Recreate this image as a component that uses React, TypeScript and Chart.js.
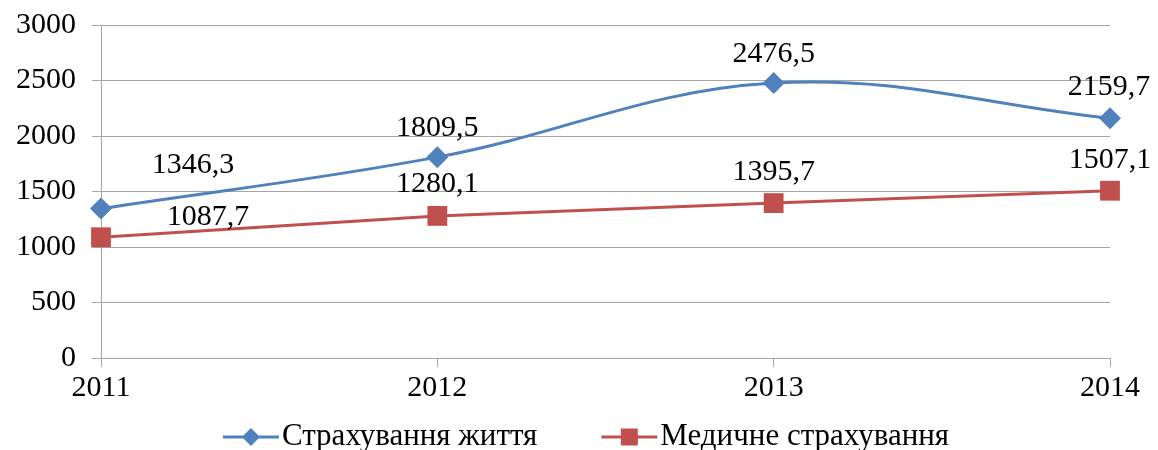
import React, { useEffect, useRef } from "react";
import { Chart, registerables } from "chart.js";

Chart.register(...registerables);

const years = ["2011", "2012", "2013", "2014"];
const lifeInsurance = [1346.3, 1809.5, 2476.5, 2159.7];
const medicalInsurance = [1087.7, 1280.1, 1395.7, 1507.1];
const seriesNames = ["Страхування життя", "Медичне страхування"];
const yMin = 0;
const yMax = 3000;
const yStep = 500;

const FONT = '"Liberation Serif", "Times New Roman", serif';
const GRID = "#a6a6a6";
const BLUE = "#4F81BD";
const RED = "#C0504D";

const fmt = (v: number) => v.toFixed(1).replace(".", ",");

// label placement (style) per dataset, per point
const labelOffsets = [
  [ { dx: 92, dy: -43 }, { dx: 0, dy: -29 }, { dx: 0, dy: -29 }, { dx: -1, dy: -31 } ],
  [ { dx: 107, dy: -20 }, { dx: 0, dy: -32 }, { dx: 0, dy: -31 }, { dx: 0, dy: -31 } ],
];

const dataLabelPlugin = {
  id: "dataLabelsCustom",
  afterDatasetsDraw(chart: any) {
    const ctx = chart.ctx;
    ctx.save();
    ctx.font = `30px ${FONT}`;
    ctx.fillStyle = "#000";
    ctx.textAlign = "center";
    ctx.textBaseline = "middle";
    chart.data.datasets.forEach((ds: any, di: number) => {
      const meta = chart.getDatasetMeta(di);
      meta.data.forEach((el: any, i: number) => {
        const off = labelOffsets[di][i];
        ctx.fillText(fmt(ds.data[i]), el.x + off.dx, el.y + off.dy);
      });
    });
    ctx.restore();
  },
};

const legendPlugin = {
  id: "customLegend",
  afterDraw(chart: any) {
    const ctx = chart.ctx;
    ctx.save();
    ctx.font = `31px ${FONT}`;
    const lineLen = 56;
    const textGap = 3;
    const itemGap = 64;
    const y = 437;
    const ds = chart.data.datasets;
    const widths = ds.map((d: any) => ctx.measureText(d.label).width);
    const total =
      widths.reduce((a: number, w: number) => a + w + lineLen + textGap, 0) +
      itemGap * (ds.length - 1);
    let x = (chart.width - total) / 2 + 7;
    ds.forEach((d: any, i: number) => {
      ctx.strokeStyle = d.borderColor;
      ctx.lineWidth = 3;
      ctx.beginPath();
      ctx.moveTo(x, y);
      ctx.lineTo(x + lineLen, y);
      ctx.stroke();
      ctx.fillStyle = d.backgroundColor;
      const cx = x + lineLen / 2;
      ctx.beginPath();
      if (d.pointStyle === "rectRot") {
        const r = 9;
        ctx.moveTo(cx - r, y);
        ctx.lineTo(cx, y - r);
        ctx.lineTo(cx + r, y);
        ctx.lineTo(cx, y + r);
        ctx.closePath();
      } else {
        const h = 8.5;
        ctx.rect(cx - h, y - h, 2 * h, 2 * h);
      }
      ctx.fill();
      ctx.fillStyle = "#000";
      ctx.textAlign = "left";
      ctx.textBaseline = "middle";
      ctx.fillText(d.label, x + lineLen + textGap, y);
      x += lineLen + textGap + widths[i] + itemGap;
    });
    ctx.restore();
  },
};

export default function App() {
  const ref = useRef<HTMLCanvasElement | null>(null);

  useEffect(() => {
    document.body.style.margin = "0";
    if (!ref.current) return;
    const chart = new Chart(ref.current, {
      type: "line",
      data: {
        labels: years,
        datasets: [
          {
            label: seriesNames[0],
            data: lifeInsurance,
            borderColor: BLUE,
            backgroundColor: BLUE,
            borderWidth: 3,
            tension: 0.38,
            pointStyle: "rectRot",
            pointRadius: 11,
            pointBorderWidth: 0,
            clip: false,
          } as any,
          {
            label: seriesNames[1],
            data: medicalInsurance,
            borderColor: RED,
            backgroundColor: RED,
            borderWidth: 3,
            tension: 0,
            pointStyle: "rect",
            pointRadius: 14,
            pointBorderWidth: 0,
            clip: false,
          } as any,
        ],
      },
      options: {
        animation: false,
        responsive: false,
        devicePixelRatio: 1,
        layout: { padding: { top: 25, right: 48, bottom: 0, left: 0 } },
        plugins: {
          legend: { display: false },
          tooltip: { enabled: false },
        },
        scales: {
          x: {
            type: "category",
            offset: false,
            grid: {
              display: true,
              drawOnChartArea: false,
              drawTicks: true,
              tickLength: 9,
              color: GRID,
            },
            border: { display: true, color: GRID },
            ticks: {
              font: { family: FONT, size: 30 },
              color: "#000",
              padding: 3,
              maxRotation: 0,
              autoSkip: false,
            },
            afterFit: (s: any) => {
              s.height = 92;
              s.paddingLeft = 0;
              s.paddingRight = 0;
            },
          },
          y: {
            min: yMin,
            max: yMax,
            ticks: {
              stepSize: yStep,
              font: { family: FONT, size: 30 },
              color: "#000",
              padding: 16,
              callback: (v: any) => String(v),
            },
            grid: { color: GRID, tickLength: 9 },
            border: { display: true, color: GRID },
            afterFit: (s: any) => {
              s.width = 101;
              s.paddingTop = 0;
              s.paddingBottom = 0;
            },
          },
        },
      } as any,
      plugins: [dataLabelPlugin, legendPlugin],
    });
    return () => chart.destroy();
  }, []);

  return (
    <div style={{ width: 1158, height: 450 }}>
      <canvas ref={ref} width={1158} height={450} style={{ display: "block" }} />
    </div>
  );
}
